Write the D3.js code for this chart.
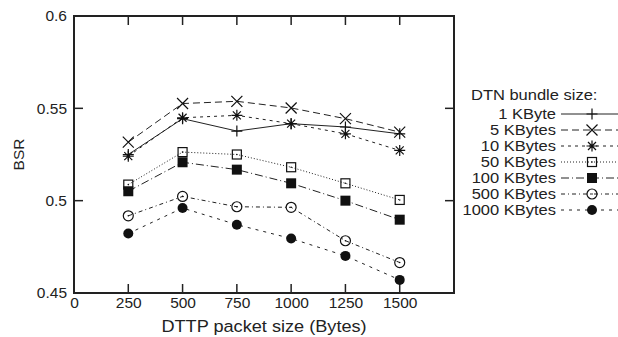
<!DOCTYPE html>
<html>
<head>
<meta charset="utf-8">
<script src="https://cdn.jsdelivr.net/npm/d3@7"></script>
<style>
  body { margin: 0; background: #fff; }
  svg { display: block; font-family: "Liberation Sans", Arial, sans-serif; }
</style>
</head>
<body>
<div id="container"></div>
<script>
// packet sizes on the x axis
let packetSizes = [250, 500, 750, 1000, 1250, 1500];
let xTicks = [0, 250, 500, 750, 1000, 1250, 1500];
let yTicks = [0.45, 0.5, 0.55, 0.6];

// BSR per bundle size
let bsr1k = [0.525, 0.5444, 0.5377, 0.5417, 0.5399, 0.5362];
let bsr5k = [0.5317, 0.5526, 0.5538, 0.5502, 0.5444, 0.5371];
let bsr10k = [0.5241, 0.5449, 0.5462, 0.5417, 0.5362, 0.5272];
let bsr50k = [0.5087, 0.5263, 0.525, 0.5181, 0.5094, 0.5004];
let bsr100k = [0.5051, 0.5208, 0.5168, 0.5094, 0.5, 0.4897];
let bsr500k = [0.4918, 0.5023, 0.4967, 0.4964, 0.4783, 0.4665];
let bsr1000k = [0.4822, 0.496, 0.487, 0.4795, 0.4701, 0.4571];

let seriesNames = ['1 KByte', '5 KBytes', '10 KBytes', '50 KBytes', '100 KBytes', '500 KBytes', '1000 KBytes'];
let seriesValues = [bsr1k, bsr5k, bsr10k, bsr50k, bsr100k, bsr500k, bsr1000k];
let markers = ['plus', 'cross', 'star', 'square', 'squareFilled', 'circle', 'circleFilled'];
let dashes = ['none', '7,4', '3,4', '1,2', '8,3,1,3', '4,3,1,3', '3,5'];

let w = 618;
let h = 337;
let padL = 74, padR = 454, padT = 16, padB = 293;
let FONT = '"Liberation Sans", Arial, sans-serif';

let viz = d3.select('#container')
    .append('svg')
    .attr('width', w)
    .attr('height', h);

let xScale = d3.scaleLinear().domain([0, 1750]).range([padL, padR]);
let yScale = d3.scaleLinear().domain([0.45, 0.6]).range([padB, padT]);

// axes: labels outside, ticks drawn inward on all sides
let xAxis = d3.axisBottom(xScale).tickValues(xTicks).tickSize(0).tickPadding(4).tickFormat(d3.format('d'));
let xAxisGroup = viz.append('g').attr('transform', `translate(0,${padB})`).call(xAxis);
let yAxis = d3.axisLeft(yScale).tickValues(yTicks).tickSize(0).tickPadding(7).tickFormat(d => String(d));
let yAxisGroup = viz.append('g').attr('transform', `translate(${padL},0)`).call(yAxis);
[xAxisGroup, yAxisGroup].forEach(g => {
    g.select('.domain').remove();
    g.selectAll('text').attr('font-size', 15.5).attr('fill', '#222').style('font-family', FONT);
});

let tickGroup = viz.append('g').attr('stroke', '#222').attr('stroke-width', 1.5);
let innerX = xTicks.filter(d => d > 0);
innerX.forEach(v => {
    tickGroup.append('line').attr('x1', xScale(v)).attr('x2', xScale(v)).attr('y1', padB).attr('y2', padB - 9);
    tickGroup.append('line').attr('x1', xScale(v)).attr('x2', xScale(v)).attr('y1', padT).attr('y2', padT + 9);
});
[0.5, 0.55].forEach(v => {
    tickGroup.append('line').attr('x1', padL).attr('x2', padL + 9).attr('y1', yScale(v)).attr('y2', yScale(v));
    tickGroup.append('line').attr('x1', padR).attr('x2', padR - 9).attr('y1', yScale(v)).attr('y2', yScale(v));
});

viz.append('rect')
    .attr('x', padL).attr('y', padT)
    .attr('width', padR - padL).attr('height', padB - padT)
    .attr('fill', 'none').attr('stroke', '#222').attr('stroke-width', 2);

// axis titles
viz.append('text')
    .attr('transform', `translate(${(padL + padR) / 2},332) scale(1.1,1)`)
    .attr('text-anchor', 'middle').attr('font-size', 16.5).attr('fill', '#222')
    .text('DTTP packet size (Bytes)');
viz.append('text')
    .attr('transform', `translate(24,${(padT + padB) / 2}) rotate(-90)`)
    .attr('text-anchor', 'middle').attr('font-size', 15.5).attr('fill', '#222')
    .text('BSR');

function drawMarker(g, type, x, y) {
    let s = 5.5;
    if (type == 'plus') {
        g.append('path').attr('d', `M${x - s},${y}H${x + s}M${x},${y - s}V${y + s}`).attr('stroke', '#111').attr('stroke-width', 1.2);
    } else if (type == 'cross') {
        g.append('path').attr('d', `M${x - s},${y - s}L${x + s},${y + s}M${x - s},${y + s}L${x + s},${y - s}`).attr('stroke', '#111').attr('stroke-width', 1.2);
    } else if (type == 'star') {
        g.append('path').attr('d', `M${x - s},${y}H${x + s}M${x},${y - s}V${y + s}M${x - 4},${y - 4}L${x + 4},${y + 4}M${x - 4},${y + 4}L${x + 4},${y - 4}`).attr('stroke', '#111').attr('stroke-width', 1.2);
    } else if (type == 'square') {
        g.append('rect').attr('x', x - 4.5).attr('y', y - 4.5).attr('width', 9).attr('height', 9).attr('fill', 'none').attr('stroke', '#111').attr('stroke-width', 1.2);
        g.append('circle').attr('cx', x).attr('cy', y).attr('r', 0.8).attr('fill', '#111');
    } else if (type == 'squareFilled') {
        g.append('rect').attr('x', x - 5).attr('y', y - 5).attr('width', 10).attr('height', 10).attr('fill', '#111');
    } else if (type == 'circle') {
        g.append('circle').attr('cx', x).attr('cy', y).attr('r', 5).attr('fill', 'none').attr('stroke', '#111').attr('stroke-width', 1.2);
        g.append('circle').attr('cx', x).attr('cy', y).attr('r', 0.8).attr('fill', '#111');
    } else if (type == 'circleFilled') {
        g.append('circle').attr('cx', x).attr('cy', y).attr('r', 5).attr('fill', '#111');
    }
}

let line = d3.line().x((d, i) => xScale(packetSizes[i])).y(d => yScale(d));
let graphGroup = viz.append('g');
seriesValues.forEach((vals, k) => {
    graphGroup.append('path')
        .attr('d', line(vals))
        .attr('fill', 'none')
        .attr('stroke', '#222')
        .attr('stroke-width', 1)
        .attr('stroke-dasharray', dashes[k]);
    vals.forEach((v, i) => drawMarker(graphGroup, markers[k], xScale(packetSizes[i]), yScale(v)));
});

// legend (the reference glyphs are a bit wide, so stretch them slightly)
let legend = viz.append('g');
legend.append('text')
    .attr('transform', 'translate(471,100) scale(1.1,1)')
    .attr('font-size', 15).attr('fill', '#222')
    .text('DTN bundle size:');
seriesNames.forEach((name, k) => {
    let y = 114 + k * 16;
    legend.append('text')
        .attr('transform', `translate(556,${y}) scale(1.1,1)`)
        .attr('dy', '0.36em')
        .attr('text-anchor', 'end').attr('font-size', 15).attr('fill', '#222')
        .text(name);
    legend.append('line')
        .attr('x1', 561).attr('x2', 625).attr('y1', y).attr('y2', y)
        .attr('stroke', '#222').attr('stroke-width', 1)
        .attr('stroke-dasharray', dashes[k]);
    drawMarker(legend, markers[k], 592, y);
});
</script>
</body>
</html>
